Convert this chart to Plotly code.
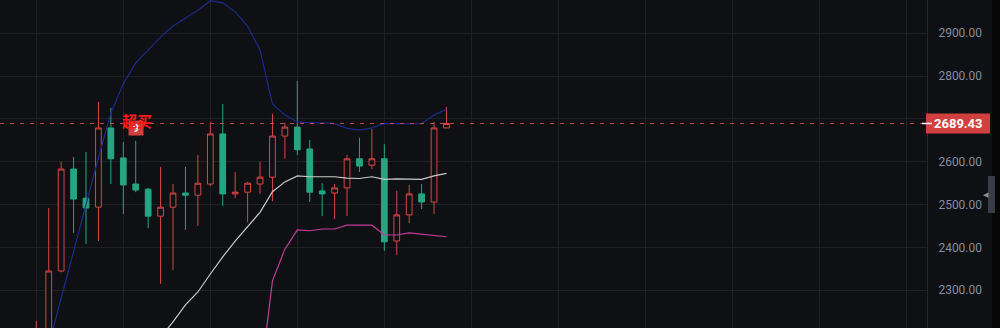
import plotly.graph_objects as go

# ---- data ----
days = list(range(34))
open_ = [2150, 2190, 2345, 2583, 2515, 2494, 2679, 2609, 2548, 2536,
         2473, 2494, 2527, 2522, 2548, 2665, 2525, 2529, 2548, 2564,
         2660, 2681, 2630, 2532, 2527, 2539, 2607, 2592, 2607, 2415,
         2476, 2525, 2506, 2679]
high = [2228, 2492, 2600, 2611, 2623, 2740, 2726, 2646, 2649, 2539,
        2588, 2548, 2588, 2616, 2693, 2735, 2576, 2553, 2600, 2712,
        2691, 2789, 2651, 2550, 2548, 2616, 2656, 2677, 2641, 2532,
        2546, 2548, 2693, 2728]
low = [2130, 2170, 2342, 2434, 2408, 2415, 2548, 2478, 2529, 2445,
       2315, 2347, 2441, 2450, 2543, 2497, 2515, 2459, 2525, 2508,
       2607, 2616, 2506, 2473, 2466, 2473, 2576, 2583, 2392, 2382,
       2457, 2490, 2478, 2679]
close = [2200, 2345, 2583, 2513, 2492, 2679, 2607, 2546, 2534, 2473,
         2494, 2527, 2522, 2550, 2665, 2525, 2529, 2550, 2564, 2660,
         2681, 2628, 2529, 2525, 2539, 2607, 2590, 2607, 2413, 2476,
         2525, 2506, 2679, 2689.43]
upper_band = [None, 2172, 2282, 2389, 2499, 2609, 2714, 2782, 2831, 2861,
              2891, 2917, 2936, 2954, 2976, 2971, 2950, 2917, 2861, 2735,
              2709, 2693, 2691, 2691, 2689, 2678, 2674, 2679, 2689, 2689,
              2689, 2689, 2709, 2723]
mid_band = [None] * 10 + [2191, 2226, 2266, 2296, 2338, 2378, 2415, 2448,
                          2482, 2530, 2553, 2567, 2565, 2565, 2565, 2562,
                          2561, 2565, 2559, 2560, 2560, 2559, 2567, 2573]
lower_band = [None] * 18 + [2085, 2322, 2396, 2441, 2439, 2443, 2443, 2452,
                            2452, 2452, 2429, 2429, 2434, 2431, 2429, 2425]
price_ticks = [2200, 2300, 2400, 2500, 2600, 2700, 2800, 2900]
week_ticks = list(range(0, 71, 7))
signal_day = 8
signal_text = "超买"
signal_count = "9"
last_price = close[-1]

BG = "#0f1013"
GRID = "#1e2024"
RED = "#d84545"
GREEN = "#26a582"

fig = go.Figure()
fig.add_trace(go.Candlestick(
    x=days, open=open_, high=high, low=low, close=close,
    increasing=dict(line=dict(color=RED, width=1), fillcolor=BG),
    decreasing=dict(line=dict(color=GREEN, width=1), fillcolor=GREEN),
    whiskerwidth=0, hoverinfo="skip", showlegend=False))
fig.add_trace(go.Scatter(x=days, y=upper_band, mode="lines",
                         line=dict(color="#1c2a8c", width=1.2), showlegend=False))
fig.add_trace(go.Scatter(x=days, y=mid_band, mode="lines",
                         line=dict(color="#c9c9c9", width=1.2), showlegend=False))
fig.add_trace(go.Scatter(x=days, y=lower_band, mode="lines",
                         line=dict(color="#c23c9e", width=1.2), showlegend=False))

PW = 927.0
shapes = [
    dict(type="line", xref="paper", x0=0, x1=1, yref="y", y0=last_price, y1=last_price,
         line=dict(color="#c94848", width=1, dash="4px,6px"), layer="above"),
    dict(type="rect", xref="paper", x0=1 - 1 / PW, x1=1 + 63 / PW, yref="y",
         ysizemode="pixel", yanchor=last_price, y0=-10, y1=10,
         fillcolor="#d13f3f", line=dict(width=0), layer="above"),
    dict(type="line", xref="paper", x0=1 - 5 / PW, x1=1 + 5 / PW, yref="y",
         y0=last_price, y1=last_price, line=dict(color="#ffffff", width=1.5), layer="above"),
    dict(type="rect", xref="paper", x0=992 / PW, x1=1010 / PW, yref="paper", y0=0, y1=1,
         fillcolor="#060607", line=dict(width=0), layer="above"),
    dict(type="rect", xref="paper", x0=988 / PW, x1=995 / PW, yref="paper",
         y0=1 - 213 / 328, y1=1 - 176 / 328,
         fillcolor="#3a3d45", line=dict(width=0), layer="above"),
]

annotations = [
    dict(xref="paper", x=1 + 32 / PW, xanchor="center", yref="y", y=last_price,
         yanchor="middle", text="<b>" + f"{last_price:.2f}" + "</b>", showarrow=False,
         font=dict(family="Roboto", size=13, color="#ffffff")),
    dict(x=signal_day, y=2679, xref="x", yref="y", text="<b>" + signal_count + "</b>",
         showarrow=False, bgcolor="#d13f3f", width=12, height=12, borderpad=1,
         font=dict(family="Roboto", size=10, color="#ffffff")),
    dict(x=signal_day + 0.1, y=2696, xref="x", yref="y", text="<b>" + signal_text + "</b>",
         showarrow=False, font=dict(family="Noto Sans CJK SC", size=15, color="#ff1a1a")),
    dict(xref="paper", x=991.5 / PW, yref="paper", y=1 - 194.5 / 328, text="◀",
         showarrow=False, font=dict(size=7, color="#8a8f99")),
]

fig.update_layout(
    width=1000, height=328,
    margin=dict(l=0, r=73, t=0, b=0),
    paper_bgcolor=BG, plot_bgcolor=BG,
    boxgap=0.34,
    shapes=shapes, annotations=annotations,
    showlegend=False,
    xaxis=dict(range=[-2.92, 71.66], tickvals=week_ticks, showticklabels=False,
               showgrid=True, gridcolor=GRID, gridwidth=1, zeroline=False,
               rangeslider=dict(visible=False), fixedrange=True),
    yaxis=dict(range=[2211.9, 2977.7], side="right", tickvals=price_ticks,
               tickformat=".2f", showgrid=True, gridcolor=GRID, gridwidth=1,
               zeroline=False, showline=True, linecolor="#26282d", linewidth=1,
               ticks="", ticklabelstandoff=8,
               tickfont=dict(family="Roboto", size=12, color="#858da2")),
)

fig.write_html("out.html")
